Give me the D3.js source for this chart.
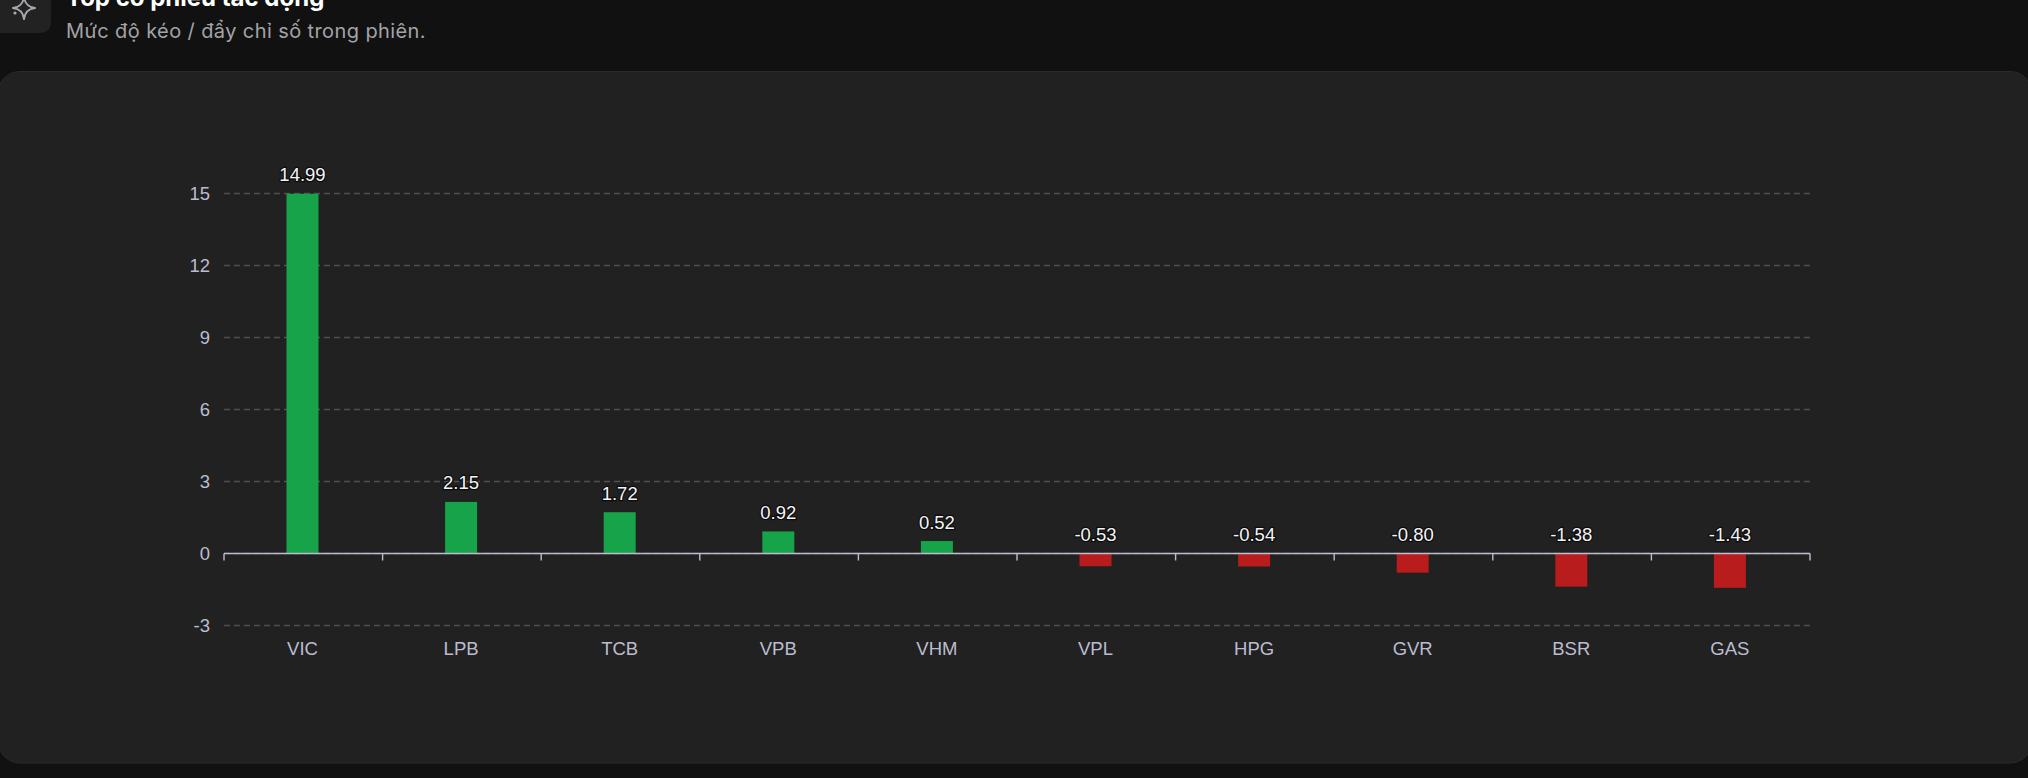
<!DOCTYPE html>
<html lang="vi">
<head>
<meta charset="utf-8">
<style>
  html, body { margin: 0; padding: 0; background: #111111; width: 2028px; height: 778px; overflow: hidden; }
  svg { display: block; }
</style>
</head>
<body>
<svg id="chart" width="2028" height="778"></svg>
<script src="https://cdn.jsdelivr.net/npm/d3@7"></script>
<script>
const categories = ["VIC", "LPB", "TCB", "VPB", "VHM", "VPL", "HPG", "GVR", "BSR", "GAS"];
const impactValues = [14.99, 2.15, 1.72, 0.92, 0.52, -0.53, -0.54, -0.80, -1.38, -1.43];
const yTicks = [-3, 0, 3, 6, 9, 12, 15];
const titleText = "Top cổ phiếu tác động";
const subtitleText = "Mức độ kéo / đẩy chỉ số trong phiên.";

const svg = d3.select("#chart");
const uiFont = "Inter, 'Noto Sans', sans-serif";
const chartFont = "'Liberation Sans', Arial, sans-serif";

// Page header
svg.append("rect").attr("x", -10).attr("y", -20).attr("width", 61).attr("height", 53).attr("rx", 10)
  .attr("fill", "#222222");
svg.append("path")
  .attr("d", "M24 -3 C25 4 28 7 35 8 C28 9 25 12 24 19 C23 12 20 9 13 8 C20 7 23 4 24 -3 Z")
  .attr("fill", "none").attr("stroke", "#a8a8ae").attr("stroke-width", 2).attr("stroke-linejoin", "round");
svg.append("circle").attr("cx", 15).attr("cy", 13).attr("r", 1.6).attr("fill", "#a8a8ae");
svg.append("text").attr("x", 66).attr("y", 6).attr("fill", "#ffffff")
  .attr("font-family", uiFont).attr("font-size", 24).attr("font-weight", 700).text(titleText);
svg.append("text").attr("x", 66).attr("y", 38).attr("fill", "#a3a3a8")
  .attr("font-family", uiFont).attr("font-size", 20).attr("letter-spacing", 0.4).text(subtitleText);

// Chart card
svg.append("rect").attr("x", -2).attr("y", 71.5).attr("width", 2034).attr("height", 691.5).attr("rx", 22)
  .attr("fill", "#212121").attr("stroke", "#2b2b2b").attr("stroke-width", 1);

// Scales
const x = d3.scaleBand().domain(categories).range([224, 1810]);
const y = d3.scaleLinear().domain([-3, 15]).range([625.5, 193.5]);
const barWidth = 32;
const centre = d => x(d) + x.bandwidth() / 2 - 0.8;

// Gridlines
svg.append("g").selectAll("line").data(yTicks).join("line")
  .attr("x1", 224).attr("x2", 1810)
  .attr("y1", d => y(d)).attr("y2", d => y(d))
  .attr("stroke", "#505054").attr("stroke-width", 1.4).attr("stroke-dasharray", "6 4");

// Y axis labels
const yAxis = d3.axisLeft(y).tickValues(yTicks).tickSize(0).tickPadding(0).tickFormat(d => String(d));
const yAxisG = svg.append("g").attr("transform", "translate(210,0)").call(yAxis);
yAxisG.select(".domain").remove();
yAxisG.selectAll("text").attr("fill", "#bcbcd0").attr("font-family", chartFont).attr("font-size", 18.5);

// Bars
svg.append("g").selectAll("rect").data(categories).join("rect")
  .attr("x", d => centre(d) - barWidth / 2)
  .attr("width", barWidth)
  .attr("y", (d, i) => Math.min(y(impactValues[i]), y(0)))
  .attr("height", (d, i) => Math.abs(y(impactValues[i]) - y(0)))
  .attr("fill", (d, i) => impactValues[i] >= 0 ? "#16a34a" : "#b91c1c");

// Zero line with category boundary ticks
const xEdges = categories.map(d => x(d)).concat([x.range()[1]]);
svg.append("line").attr("x1", 224).attr("x2", 1810).attr("y1", y(0)).attr("y2", y(0))
  .attr("stroke", "#bcbcd0").attr("stroke-width", 1.4);
svg.append("g").selectAll("line").data(xEdges).join("line")
  .attr("x1", d => d).attr("x2", d => d).attr("y1", y(0)).attr("y2", y(0) + 7)
  .attr("stroke", "#bcbcd0").attr("stroke-width", 1.4);

// Category labels
svg.append("g").selectAll("text").data(categories).join("text")
  .attr("x", centre).attr("y", 654.5)
  .attr("text-anchor", "middle").attr("fill", "#bcbcd0")
  .attr("font-family", chartFont).attr("font-size", 18.5).text(d => d);

// Value labels; negative bars keep theirs above the zero line
svg.append("g").selectAll("text").data(categories).join("text")
  .attr("x", centre)
  .attr("y", (d, i) => Math.min(y(impactValues[i]), y(0)) - 12.5)
  .attr("text-anchor", "middle").attr("fill", "#f4f4f6")
  .attr("stroke", "#0c0c0c").attr("stroke-width", 2.4).attr("paint-order", "stroke")
  .attr("font-family", chartFont).attr("font-size", 18.5)
  .text((d, i) => impactValues[i].toFixed(2));
</script>
</body>
</html>
